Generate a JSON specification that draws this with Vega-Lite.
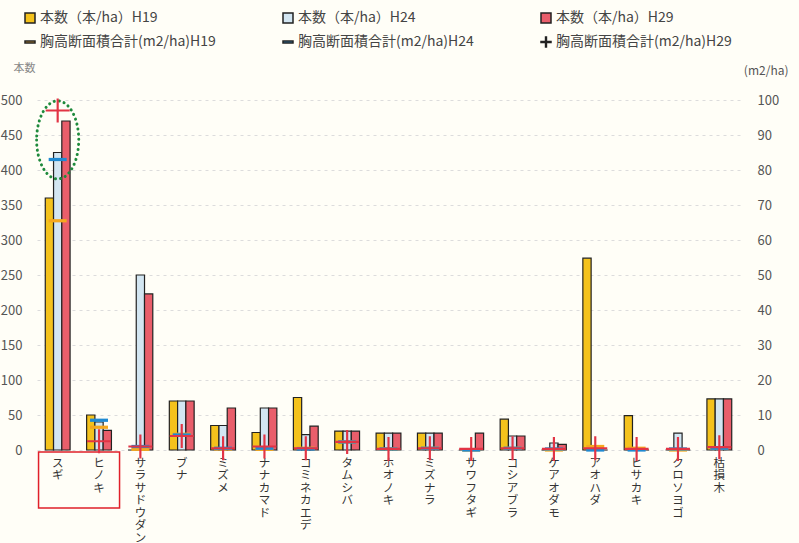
{
  "$schema": "https://vega.github.io/schema/vega-lite/v6.json",
  "autosize": "none",
  "width": 703,
  "height": 350,
  "padding": {"left": 37, "top": 100, "right": 59, "bottom": 93},
  "background": "#FFFEF7",
  "config": {
    "font": "Noto Sans CJK JP",
    "view": {"stroke": null},
    "legend": {"orient": "none", "legendX": -14, "legendY": -89, "direction": "horizontal", "columns": 3, "gridAlign": "all", "columnPadding": 64, "rowPadding": 8, "labelFontSize": 14, "labelColor": "#444", "labelLimit": 300, "symbolSize": 100, "labelOffset": 3, "padding": 0, "symbolOpacity": 1}
  },
  "datasets": {
    "trees": [
      {"sp": "スギ", "本数（本/ha）H19": 360, "本数（本/ha）H24": 425, "本数（本/ha）H29": 470, "胸高断面積合計(m2/ha)H19": 65.5, "胸高断面積合計(m2/ha)H24": 83, "胸高断面積合計(m2/ha)H29": 97},
      {"sp": "ヒノキ", "本数（本/ha）H19": 50, "本数（本/ha）H24": 40, "本数（本/ha）H29": 28, "胸高断面積合計(m2/ha)H19": 6.5, "胸高断面積合計(m2/ha)H24": 8.5, "胸高断面積合計(m2/ha)H29": 2.5},
      {"sp": "サラサドウダン", "本数（本/ha）H19": 0, "本数（本/ha）H24": 250, "本数（本/ha）H29": 223, "胸高断面積合計(m2/ha)H19": 0.2, "胸高断面積合計(m2/ha)H24": 1, "胸高断面積合計(m2/ha)H29": 1},
      {"sp": "ブナ", "本数（本/ha）H19": 70, "本数（本/ha）H24": 70, "本数（本/ha）H29": 70, "胸高断面積合計(m2/ha)H19": 4.5, "胸高断面積合計(m2/ha)H24": 4.3, "胸高断面積合計(m2/ha)H29": 4},
      {"sp": "ミズメ", "本数（本/ha）H19": 35, "本数（本/ha）H24": 35, "本数（本/ha）H29": 60, "胸高断面積合計(m2/ha)H19": 0.3, "胸高断面積合計(m2/ha)H24": 0.5, "胸高断面積合計(m2/ha)H29": 0.5},
      {"sp": "ナナカマド", "本数（本/ha）H19": 25, "本数（本/ha）H24": 60, "本数（本/ha）H29": 60, "胸高断面積合計(m2/ha)H19": 0.2, "胸高断面積合計(m2/ha)H24": 0.5, "胸高断面積合計(m2/ha)H29": 1},
      {"sp": "コミネカエデ", "本数（本/ha）H19": 75, "本数（本/ha）H24": 22, "本数（本/ha）H29": 34, "胸高断面積合計(m2/ha)H19": 0.5, "胸高断面積合計(m2/ha)H24": 0.3, "胸高断面積合計(m2/ha)H29": 0.5},
      {"sp": "タムシバ", "本数（本/ha）H19": 27, "本数（本/ha）H24": 27, "本数（本/ha）H29": 27, "胸高断面積合計(m2/ha)H19": 2.3, "胸高断面積合計(m2/ha)H24": 2.3, "胸高断面積合計(m2/ha)H29": 2.3},
      {"sp": "ホオノキ", "本数（本/ha）H19": 24, "本数（本/ha）H24": 24, "本数（本/ha）H29": 24, "胸高断面積合計(m2/ha)H19": 0.3, "胸高断面積合計(m2/ha)H24": 0.3, "胸高断面積合計(m2/ha)H29": 0.3},
      {"sp": "ミズナラ", "本数（本/ha）H19": 24, "本数（本/ha）H24": 24, "本数（本/ha）H29": 24, "胸高断面積合計(m2/ha)H19": 0.5, "胸高断面積合計(m2/ha)H24": 0.5, "胸高断面積合計(m2/ha)H29": 0.5},
      {"sp": "サワフタギ", "本数（本/ha）H19": 0, "本数（本/ha）H24": 0, "本数（本/ha）H29": 24, "胸高断面積合計(m2/ha)H19": 0, "胸高断面積合計(m2/ha)H24": 0, "胸高断面積合計(m2/ha)H29": 0.3},
      {"sp": "コシアブラ", "本数（本/ha）H19": 44, "本数（本/ha）H24": 20, "本数（本/ha）H29": 20, "胸高断面積合計(m2/ha)H19": 0.5, "胸高断面積合計(m2/ha)H24": 0.5, "胸高断面積合計(m2/ha)H29": 0.5},
      {"sp": "ケアオダモ", "本数（本/ha）H19": 0, "本数（本/ha）H24": 10, "本数（本/ha）H29": 8, "胸高断面積合計(m2/ha)H19": 0, "胸高断面積合計(m2/ha)H24": 0.3, "胸高断面積合計(m2/ha)H29": 0.3},
      {"sp": "アオハダ", "本数（本/ha）H19": 274, "本数（本/ha）H24": 0, "本数（本/ha）H29": 0, "胸高断面積合計(m2/ha)H19": 1, "胸高断面積合計(m2/ha)H24": 0, "胸高断面積合計(m2/ha)H29": 0.5},
      {"sp": "ヒサカキ", "本数（本/ha）H19": 49, "本数（本/ha）H24": 0, "本数（本/ha）H29": 0, "胸高断面積合計(m2/ha)H19": 0.5, "胸高断面積合計(m2/ha)H24": 0, "胸高断面積合計(m2/ha)H29": 0.3},
      {"sp": "クロソヨゴ", "本数（本/ha）H19": 0, "本数（本/ha）H24": 24, "本数（本/ha）H29": 0, "胸高断面積合計(m2/ha)H19": 0, "胸高断面積合計(m2/ha)H24": 0.3, "胸高断面積合計(m2/ha)H29": 0.3},
      {"sp": "枯損木", "本数（本/ha）H19": 73, "本数（本/ha）H24": 73, "本数（本/ha）H29": 73, "胸高断面積合計(m2/ha)H19": 0.5, "胸高断面積合計(m2/ha)H24": 0.5, "胸高断面積合計(m2/ha)H29": 0.8}
    ],
    "ellipse": [{"sp": "スギ", "value": 443}],
    "box": [{"sp": "ヒノキ", "value": 0}]
  },
  "layer": [
    {
      "layer": [
        {
          "data": {"name": "trees"},
          "transform": [{"fold": ["本数（本/ha）H19", "本数（本/ha）H24", "本数（本/ha）H29"], "as": ["key", "value"]}],
          "mark": {"type": "bar", "stroke": "#222", "strokeWidth": 1.2},
          "encoding": {
            "x": {
              "field": "sp", "type": "nominal", "title": null,
              "scale": {"domain": ["スギ","ヒノキ","サラサドウダン","ブナ","ミズメ","ナナカマド","コミネカエデ","タムシバ","ホオノキ","ミズナラ","サワフタギ","コシアブラ","ケアオダモ","アオハダ","ヒサカキ","クロソヨゴ","枯損木"], "paddingInner": 0.4, "paddingOuter": 0.2},
              "axis": {"labelAngle": 0, "labelExpr": "split(datum.label, '')", "labelFontSize": 11.5, "labelLineHeight": 12.5, "labelBaseline": "top", "labelPadding": 7, "labelColor": "#333", "ticks": false, "domain": false}
            },
            "xOffset": {"field": "key", "type": "nominal", "scale": {"domain": ["本数（本/ha）H19", "本数（本/ha）H24", "本数（本/ha）H29"]}},
            "y": {
              "field": "value", "type": "quantitative",
              "scale": {"domain": [0, 500], "nice": false},
              "axis": {"orient": "left", "values": [0,50,100,150,200,250,300,350,400,450,500], "labelOverlap": false, "labelFontSize": 13, "labelColor": "#555", "labelPadding": 15, "ticks": false, "domain": false, "grid": true, "gridColor": "#dcdcdc", "gridDash": [3, 4], "title": "本数", "titleAngle": 0, "titleX": -13, "titleY": -32, "titleAlign": "center", "titleBaseline": "middle", "titleFontSize": 11, "titleFontWeight": "normal", "titleColor": "#888"}
            },
            "color": {
              "field": "key", "type": "nominal", "title": null,
              "scale": {
                "domain": ["本数（本/ha）H19", "本数（本/ha）H24", "本数（本/ha）H29", "胸高断面積合計(m2/ha)H19", "胸高断面積合計(m2/ha)H24", "胸高断面積合計(m2/ha)H29"],
                "range": ["#F4C21C", "#D3E6F2", "#E95E6B", "#F5A81E", "#1F8AD2", "#E23445"]
              }
            }
          }
        },
        {
          "data": {"name": "ellipse"},
          "mark": {"type": "point", "shape": "M-0.54,0A0.54,1,0,1,0,0.54,0A0.54,1,0,1,0,-0.54,0Z", "size": 6084, "filled": false, "stroke": "#1E8A3C", "strokeWidth": 3, "strokeDash": [0.1, 5], "strokeCap": "round", "opacity": 1},
          "encoding": {
            "x": {"field": "sp", "type": "nominal"},
            "y": {"field": "value", "type": "quantitative", "axis": {"orient": "left", "values": [0,50,100,150,200,250,300,350,400,450,500], "labelOverlap": false, "labelFontSize": 13, "labelColor": "#555", "labelPadding": 15, "ticks": false, "domain": false, "grid": true, "gridColor": "#dcdcdc", "gridDash": [3, 4], "title": "本数", "titleAngle": 0, "titleX": -13, "titleY": -32, "titleAlign": "center", "titleBaseline": "middle", "titleFontSize": 11, "titleFontWeight": "normal", "titleColor": "#888"}}
          }
        },
        {
          "data": {"name": "box"},
          "mark": {"type": "point", "shape": "M-1.008,0.033H0.342V0.967H-1.008Z", "size": 14400, "filled": false, "stroke": "#E0202A", "strokeWidth": 1.5, "opacity": 1},
          "encoding": {
            "x": {"field": "sp", "type": "nominal"},
            "y": {"field": "value", "type": "quantitative", "axis": {"orient": "left", "values": [0,50,100,150,200,250,300,350,400,450,500], "labelOverlap": false, "labelFontSize": 13, "labelColor": "#555", "labelPadding": 15, "ticks": false, "domain": false, "grid": true, "gridColor": "#dcdcdc", "gridDash": [3, 4], "title": "本数", "titleAngle": 0, "titleX": -13, "titleY": -32, "titleAlign": "center", "titleBaseline": "middle", "titleFontSize": 11, "titleFontWeight": "normal", "titleColor": "#888"}}
          }
        }
      ]
    },
    {
      "layer": [
        {
          "data": {"name": "trees"},
          "transform": [{"fold": ["胸高断面積合計(m2/ha)H19", "胸高断面積合計(m2/ha)H24"], "as": ["key", "value"]}],
          "mark": {"type": "point", "size": 324, "filled": true, "opacity": 1},
          "encoding": {
            "x": {"field": "sp", "type": "nominal"},
            "y": {
              "field": "value", "type": "quantitative",
              "scale": {"domain": [0, 100], "nice": false},
              "axis": {"orient": "right", "values": [0,10,20,30,40,50,60,70,80,90,100], "labelOverlap": false, "labelFontSize": 13, "labelColor": "#555", "labelPadding": 17, "ticks": false, "domain": false, "grid": false, "title": "(m2/ha)", "titleAngle": 0, "titleX": 48, "titleY": -30, "titleAlign": "right", "titleBaseline": "middle", "titleFontSize": 12, "titleFontWeight": "normal", "titleColor": "#555"}
            },
            "color": {"field": "key", "type": "nominal", "title": null},
            "shape": {
              "field": "key", "type": "nominal", "title": null,
              "scale": {
                "domain": ["本数（本/ha）H19", "本数（本/ha）H24", "本数（本/ha）H29", "胸高断面積合計(m2/ha)H19", "胸高断面積合計(m2/ha)H24", "胸高断面積合計(m2/ha)H29"],
                "range": ["square", "square", "square", "M-1,-0.18H1V0.18H-1Z", "M-1,-0.18H1V0.18H-1Z", "M-1,-0.09H1V0.09H-1ZM-0.09,-1H0.09V1H-0.09Z"]
              }
            }
          }
        },
        {
          "data": {"name": "trees"},
          "transform": [{"fold": ["胸高断面積合計(m2/ha)H29"], "as": ["key", "value"]}],
          "mark": {"type": "point", "size": 576, "filled": true, "opacity": 1},
          "encoding": {
            "x": {"field": "sp", "type": "nominal"},
            "y": {"field": "value", "type": "quantitative", "axis": {"orient": "right", "values": [0,10,20,30,40,50,60,70,80,90,100], "labelOverlap": false, "labelFontSize": 13, "labelColor": "#555", "labelPadding": 17, "ticks": false, "domain": false, "grid": false, "title": "(m2/ha)", "titleAngle": 0, "titleX": 48, "titleY": -30, "titleAlign": "right", "titleBaseline": "middle", "titleFontSize": 12, "titleFontWeight": "normal", "titleColor": "#555"}},
            "color": {"field": "key", "type": "nominal", "title": null},
            "shape": {"field": "key", "type": "nominal", "title": null}
          }
        }
      ]
    }
  ],
  "resolve": {"scale": {"y": "independent"}}
}
